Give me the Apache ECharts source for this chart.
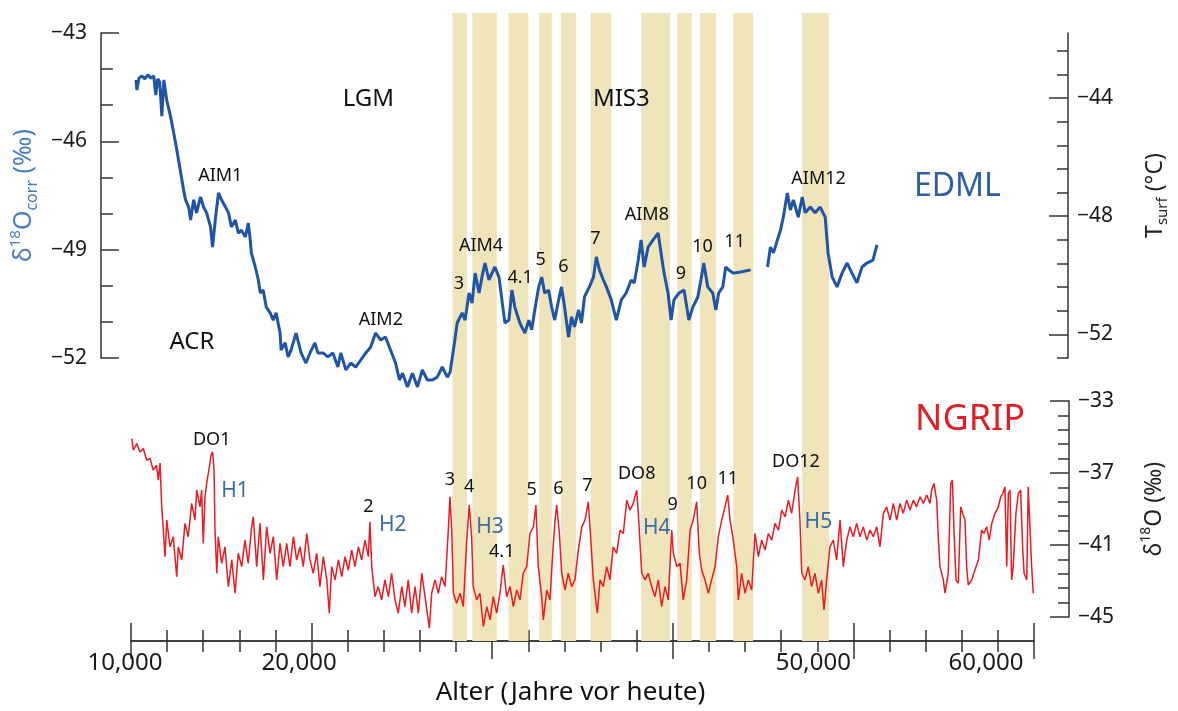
<!DOCTYPE html>
<html>
<head>
<meta charset="utf-8">
<script src="https://cdn.jsdelivr.net/npm/echarts@6/dist/echarts.min.js"></script>
<style>
  html, body { margin: 0; padding: 0; background: #fff; }
  #chart { width: 1178px; height: 711px; }
</style>
</head>
<body>
<div id="chart"></div>
<script>
// --- EDML (Antarktis), δ18O corr in ‰, Alter in Jahren vor heute ---
const edmlYears = [
  10060, 10110, 10220, 10390, 10550, 10720, 10890, 11050, 11160, 11270, 11380, 11500, 11610, 11720, 11770,
  11990, 12160, 12330, 12550, 12710, 12820, 12990, 13100, 13270, 13430, 13650, 13820, 13990, 14210, 14320,
  14490, 14650, 14820, 15040, 15210, 15370, 15590, 15760, 15930, 16150, 16310, 16420, 16480, 16700, 16870,
  16980, 17140, 17310, 17530, 17700, 17860, 18080, 18140, 18360, 18530, 18690, 18970, 19250, 19520, 19750,
  20020, 20190, 20470, 20740, 21020, 21300, 21460, 21740, 22020, 22290, 22570, 22850, 23120, 23400, 23680,
  23950, 24230, 24510, 24730, 24900, 25170, 25450, 25730, 26000, 26280, 26560, 26830, 27110, 27390, 27550,
  27770, 27940, 28220, 28380, 28600, 28770, 28940, 29160, 29320, 29490, 29710, 29880, 30040, 30270, 30430,
  30600, 30820, 30990, 31150, 31430, 31710, 31930, 32090, 32260, 32480, 32650, 32810, 33030, 33200, 33370,
  33590, 33750, 33920, 34140, 34310, 34470, 34700, 34860, 35030, 35300, 35530, 35690, 35860, 36080, 36250,
  36520, 36800, 37080, 37350, 37630, 37800, 38020, 38180, 38350, 38570, 38850, 39130, 39290, 39460, 39680,
  39850, 40010, 40290, 40570, 40840, 41060, 41340, 41510, 41670, 41890, 42170, 42340, 42500, 42730, 42890,
  43060, 43330, 43720, 44280, 45000, 45220, 45380, 45550, 45770, 45940, 46100, 46320, 46490, 46660, 46930,
  47150, 47320, 47600, 47870, 48150, 48430, 48590, 48820, 49090, 49370, 49650, 49920, 50200, 50480, 50750,
  51090, 51310
];
const edmlValues = [
  -44.30, -44.58, -44.25, -44.19, -44.27, -44.16, -44.25, -44.19, -44.72, -44.27, -44.36, -45.30, -44.30, -44.25, -44.86,
  -45.33, -45.77, -46.24, -46.88, -47.35, -47.62, -47.82, -48.18, -47.62, -47.98, -47.54, -47.82, -47.98, -48.37, -48.93,
  -48.10, -47.43, -47.62, -47.82, -47.98, -48.37, -48.18, -48.54, -48.46, -48.65, -48.26, -48.73, -49.09, -49.48, -49.84,
  -50.20, -50.12, -50.59, -50.75, -50.95, -50.75, -51.31, -51.78, -51.58, -51.97, -51.78, -51.31, -51.86, -52.14, -51.86,
  -51.58, -51.86, -51.86, -51.97, -51.86, -52.25, -51.86, -52.33, -52.14, -52.25, -52.06, -51.86, -51.70, -51.31, -51.50,
  -51.42, -51.78, -52.14, -52.61, -52.42, -52.80, -52.42, -52.80, -52.33, -52.61, -52.61, -52.53, -52.25, -52.53, -52.39,
  -51.64, -51.03, -50.75, -50.95, -50.20, -50.48, -49.65, -50.20, -49.76, -49.37, -49.84, -49.65, -49.48, -49.76, -50.39,
  -51.03, -50.95, -50.12, -50.59, -51.03, -51.31, -50.95, -51.22, -50.67, -50.03, -49.76, -50.20, -50.12, -50.59, -50.95,
  -50.39, -50.03, -50.59, -51.42, -50.86, -51.14, -50.67, -51.03, -50.31, -50.03, -49.76, -49.20, -49.56, -49.84, -50.03,
  -50.39, -50.95, -50.39, -50.20, -49.84, -49.92, -49.29, -48.73, -49.48, -48.93, -48.73, -48.54, -49.09, -49.65, -50.20,
  -50.95, -50.39, -50.20, -50.12, -50.95, -50.59, -50.31, -49.84, -49.37, -50.03, -50.20, -50.67, -50.20, -50.03, -49.48,
  -49.56, -49.65, -49.62, -49.56, null, -49.48, -48.93, -49.09, -48.73, -48.46, -48.10, -47.43, -47.90, -47.62, -48.10,
  -47.54, -47.98, -47.82, -47.98, -47.82, -48.10, -49.09, -49.76, -50.03, -49.65, -49.37, -49.65, -49.92, -49.48, -49.37,
  -49.29, -48.87
];

// --- NGRIP (Grönland), δ18O in ‰ ---
const ngripYears = [
  10040, 10130, 10320, 10500, 10680, 10870, 11050, 11230, 11420, 11510, 11610, 11700, 11790, 11880, 11980,
  12160, 12340, 12530, 12620, 12810, 12990, 13170, 13360, 13540, 13640, 13820, 13910, 14000, 14100, 14190,
  14340, 14430, 14520, 14600, 14650, 14750, 14830, 15020, 15200, 15390, 15580, 15760, 15940, 16130, 16310,
  16490, 16680, 16770, 16960, 17140, 17330, 17510, 17700, 17880, 18070, 18250, 18430, 18620, 18800, 18990,
  19170, 19360, 19540, 19730, 19910, 20090, 20280, 20460, 20650, 20840, 20980, 21110, 21300, 21480, 21670,
  21850, 22030, 22220, 22400, 22590, 22770, 22960, 23140, 23230, 23330, 23510, 23690, 23880, 24060, 24250,
  24430, 24620, 24800, 24990, 25170, 25350, 25540, 25730, 25910, 26100, 26280, 26520, 26650, 26830, 27020,
  27200, 27390, 27570, 27660, 27760, 27850, 28030, 28220, 28400, 28590, 28730, 28860, 28950, 29140, 29320,
  29510, 29700, 29880, 30060, 30250, 30430, 30610, 30800, 30990, 31170, 31360, 31540, 31720, 31910, 32090,
  32280, 32420, 32550, 32740, 32830, 33020, 33200, 33350, 33480, 33570, 33720, 33850, 34030, 34210, 34400,
  34580, 34770, 34960, 35140, 35320, 35450, 35600, 35820, 35970, 36150, 36340, 36520, 36700, 36890, 37080,
  37260, 37450, 37630, 37810, 38000, 38090, 38280, 38460, 38640, 38830, 39010, 39200, 39380, 39570, 39750,
  39940, 40030, 40220, 40400, 40580, 40770, 40960, 41130, 41320, 41470, 41600, 41780, 41970, 42150, 42340,
  42520, 42710, 42890, 43040, 43170, 43350, 43540, 43630, 43810, 44000, 44180, 44370, 44550, 44740, 44920,
  45110, 45290, 45480, 45660, 45850, 46030, 46220, 46400, 46580, 46770, 46910, 47040, 47140, 47320, 47500,
  47690, 47870, 48060, 48240, 48370, 48520, 48700, 48890, 49070, 49260, 49440, 49630, 49810, 49990, 50180,
  50360, 50550, 50740, 50920, 51100, 51290, 51470, 51660, 51840, 52030, 52210, 52400, 52580, 52760, 52950,
  53130, 53320, 53500, 53690, 53870, 54060, 54240, 54330, 54460, 54610, 54700, 54790, 54980, 55070, 55250,
  55390, 55480, 55570, 55680, 55810, 55940, 56050, 56180, 56270, 56360, 56550, 56730, 56920, 57100, 57230,
  57380, 57520, 57660, 57840, 58020, 58160, 58270, 58390, 58490, 58580, 58670, 58760, 58850, 59000, 59130,
  59260, 59370, 59450, 59600, 59680, 59780, 59870, 59960
];
const ngripValues = [
  -35.09, -35.73, -35.36, -35.83, -35.64, -36.29, -36.19, -36.84, -36.57, -37.40, -36.45, -38.88, -40.17, -41.65, -39.62,
  -41.10, -40.54, -42.76, -41.10, -41.83, -39.80, -40.54, -38.69, -39.62, -37.95, -38.88, -37.95, -40.91, -38.32, -37.58,
  -36.66, -36.01, -35.83, -36.84, -40.17, -42.57, -40.54, -42.02, -41.10, -43.31, -41.83, -43.68, -41.46, -42.20, -40.73,
  -42.02, -39.99, -39.43, -42.20, -39.80, -42.94, -39.99, -41.46, -40.54, -42.94, -40.91, -42.20, -40.91, -42.20, -40.54,
  -41.83, -41.10, -42.20, -40.36, -41.83, -42.57, -41.46, -43.31, -41.65, -42.94, -44.79, -42.20, -42.94, -41.83, -42.76,
  -41.65, -42.39, -41.28, -42.20, -41.10, -41.83, -40.73, -41.65, -39.71, -42.20, -43.87, -43.31, -44.05, -42.94, -43.87,
  -42.57, -44.05, -44.79, -43.31, -44.42, -42.94, -44.79, -43.31, -44.79, -42.57, -43.87, -45.62, -43.68, -42.94, -43.68,
  -42.76, -43.31, -40.17, -38.32, -40.17, -43.68, -44.24, -43.68, -44.42, -40.73, -38.78, -40.54, -43.31, -44.05, -43.68,
  -45.53, -44.42, -45.16, -43.87, -44.79, -43.68, -42.11, -43.87, -43.31, -44.42, -43.50, -44.05, -42.57, -42.20, -40.36,
  -39.99, -38.78, -42.20, -43.87, -45.16, -43.50, -44.05, -41.46, -39.62, -38.78, -40.36, -42.57, -43.50, -42.57, -43.31,
  -42.94, -41.28, -39.99, -39.62, -38.60, -40.54, -42.94, -44.79, -42.94, -43.31, -42.20, -42.94, -41.10, -41.46, -40.17,
  -40.36, -38.51, -39.06, -38.69, -37.95, -39.24, -42.57, -42.94, -42.57, -43.31, -43.87, -42.94, -44.42, -43.31, -44.05,
  -40.17, -41.46, -42.20, -42.02, -44.05, -42.94, -40.17, -39.62, -38.60, -41.46, -42.39, -42.94, -43.68, -42.94, -42.20,
  -40.54, -39.62, -38.88, -38.23, -39.62, -40.73, -42.20, -44.05, -42.57, -43.68, -42.94, -43.50, -40.36, -41.65, -40.73,
  -41.28, -40.36, -40.73, -39.80, -40.17, -39.06, -39.43, -38.51, -39.24, -37.95, -37.21, -39.62, -42.57, -42.94, -42.20,
  -43.31, -42.57, -43.68, -42.94, -44.61, -42.94, -41.10, -40.73, -41.83, -39.62, -42.20, -40.73, -39.99, -40.54, -39.80,
  -40.54, -39.99, -40.73, -40.17, -40.54, -39.99, -41.10, -39.24, -38.88, -39.62, -38.69, -39.62, -38.69, -39.24, -38.51,
  -39.06, -38.51, -38.88, -38.32, -38.69, -38.23, -38.69, -37.95, -37.58, -38.51, -40.54, -42.20, -42.94, -43.68, -42.57,
  -37.58, -37.40, -40.17, -42.94, -43.13, -38.88, -39.24, -39.62, -42.20, -43.22, -42.94, -42.39, -41.83, -40.17, -40.36,
  -39.99, -40.73, -39.80, -39.24, -38.88, -38.32, -38.14, -37.77, -42.20, -38.14, -37.95, -42.94, -42.20, -39.24, -38.14,
  -37.95, -41.10, -42.57, -42.94, -37.77, -37.67, -42.20, -43.68
];

// --- Warmphasen (Interstadiale), schattiert: [Beginn, Ende] ---
const bandStarts = [27800, 28900, 30900, 32600, 33800, 35450, 38250, 40250, 41500, 43350, 47150];
const bandEnds   = [28600, 30250, 32000, 33300, 34650, 36600, 39850, 41050, 42400, 44450, 48650];

// --- Beschriftungen ---
const periodNames = ['LGM', 'MIS3', 'ACR'];
const periodYears = [23000, 37080, 13170];
const periodVals  = [-44.83, -44.83, -51.57];

const aimNames = ['AIM1', 'AIM2', 'AIM4', '3', '4.1', '5', '6', '7', 'AIM8', '9', '10', '11', 'AIM12'];
const aimYears = [14750, 23690, 29270, 28030, 31450, 32590, 33850, 35640, 38500, 40400, 41600, 43390, 48060];
const aimVals  = [-46.96, -50.95, -48.89, -49.95, -49.77, -49.29, -49.47, -48.71, -48.04, -49.67, -48.93, -48.78, -47.04];

const doNames = ['DO1', '2', '3', '4', '4.1', '5', '6', '7', 'DO8', '9', '10', '11', 'DO12'];
const doYears = [14470, 23140, 27660, 28730, 30530, 32190, 33660, 35270, 38000, 39990, 41320, 43040, 46820];
const doVals  = [-35.14, -38.88, -37.40, -37.77, -41.37, -37.95, -37.86, -37.73, -37.03, -38.79, -37.58, -37.30, -36.38];

const heinrichNames = ['H1', 'H2', 'H3', 'H4', 'H5'];
const heinrichYears = [15760, 24490, 29880, 39110, 48060];
const heinrichVals  = [-38.01, -39.89, -39.99, -40.08, -39.71];

const edmlTag  = ['EDML', 55790, -47.26];
const ngripTag = ['NGRIP', 56460, -34.05];

// --- Achsen-Ticks ---
const xTickLabels = { 10000: '10,000', 20000: '20,000', 50000: '50,000', 60000: '60,000' };
const tsurfMinorTicks = [-52.8, -52, -51.2, -50.4, -49.6, -48.8, -48, -47.2, -46.4, -45.6, -44.8, -44, -43.2, -42.4];
const tsurfMajorTicks = [-52, -48, -44];

const FONT = '"Noto Sans", "DejaVu Sans", sans-serif';
const INK = '#111';
const minus = (v) => String(v).replace('-', '\u2212');
const pairs = (xs, ys) => xs.map((x, i) => [x, ys[i]]);
const notes = (names, xs, ys) => names.map((n, i) => ({ name: n, value: [xs[i], ys[i]] }));

// Beschriftungen leicht nach links versetzt wie in der Vorlage
const xLabelShift = { 10000: 12, 20000: 25, 50000: 80, 60000: 96 };
const xRich = {};
Object.keys(xLabelShift).forEach((k) => {
  xRich['s' + k] = { fontSize: 24, fontFamily: FONT, color: '#1a1a1a', padding: [0, xLabelShift[k], 0, 0] };
});

function labelSeries(data, xi, yi, size, color) {
  return {
    type: 'scatter',
    xAxisIndex: xi,
    yAxisIndex: yi,
    symbolSize: 1,
    // scatter default opacity is 0.8 and the label inherits it
    itemStyle: { color: 'rgba(0,0,0,0)', opacity: 1 },
    silent: true,
    z: 10,
    data: data,
    label: {
      show: true,
      position: 'inside',
      formatter: (p) => p.name,
      fontFamily: FONT,
      fontSize: size,
      color: color,
      textBorderWidth: 0,
    },
  };
}

const X_MIN = 10000, X_MAX = 60000;
const gridLeft = 131, gridRight = 144;
const axisLineStyle = { color: '#333', width: 1.5 };

const chart = echarts.init(document.getElementById('chart'), null, { renderer: 'canvas' });

const option = {
  backgroundColor: '#fff',
  animation: false,
  grid: [
    { left: gridLeft, right: gridRight, top: 13, bottom: 52 },
    { left: gridLeft, right: gridRight, top: 33, height: 325 },
    { left: gridLeft, right: gridRight, top: 401, height: 216 },
  ],
  xAxis: [
    {
      gridIndex: 0, type: 'value', position: 'top', min: X_MIN, max: X_MAX, interval: 10000,
      axisLine: { lineStyle: axisLineStyle },
      axisTick: { inside: true, length: 18, lineStyle: axisLineStyle },
      minorTick: { show: true, splitNumber: 5, length: 11, lineStyle: axisLineStyle },
      axisLabel: { show: false },
      splitLine: { show: false },
    },
    {
      gridIndex: 0, type: 'value', position: 'bottom', min: X_MIN, max: X_MAX, interval: 10000,
      axisLine: { lineStyle: axisLineStyle },
      axisTick: { inside: true, length: 18, lineStyle: axisLineStyle },
      minorTick: { show: true, splitNumber: 5, length: 11, lineStyle: axisLineStyle },
      axisLabel: {
        margin: 10,
        formatter: (v) => (xTickLabels[v] ? '{s' + v + '|' + xTickLabels[v] + '}' : ''),
        rich: xRich,
      },
      splitLine: { show: false },
      name: 'Alter (Jahre vor heute)',
      nameLocation: 'middle',
      nameGap: 29,
      nameTextStyle: {
        fontFamily: FONT,
        fontSize: 26,
        color: '#111',
        padding: [0, 24, 0, 0],
      },
    },
    { gridIndex: 1, type: 'value', min: X_MIN, max: X_MAX, show: false },
    { gridIndex: 2, type: 'value', min: X_MIN, max: X_MAX, show: false },
  ],
  yAxis: [
    { gridIndex: 0, type: 'value', min: 0, max: 1, show: false },
    {
      gridIndex: 1, type: 'value', position: 'left', offset: 34,
      min: -52, max: -43, interval: 3,
      axisLine: { show: true, lineStyle: axisLineStyle },
      axisTick: { show: true, inside: true, length: 18, lineStyle: axisLineStyle },
      minorTick: { show: true, splitNumber: 3, length: 12, lineStyle: axisLineStyle },
      splitLine: { show: false },
      axisLabel: { margin: 14, fontFamily: FONT, fontSize: 21, color: '#1a1a1a', formatter: minus },
      name: '{a|δ}{sup|18}{a|O}{sub|corr}{a| (‰)}',
      nameLocation: 'middle',
      nameGap: 50,
      nameTextStyle: {
        rich: {
          a: { fontFamily: FONT, fontSize: 25, color: '#4a7cc0', lineHeight: 32, verticalAlign: 'middle' },
          sup: { fontFamily: FONT, fontSize: 15, color: '#4a7cc0', verticalAlign: 'top', lineHeight: 32 },
          sub: { fontFamily: FONT, fontSize: 16, color: '#4a7cc0', verticalAlign: 'bottom', lineHeight: 28 },
        },
      },
    },
    {
      gridIndex: 1, type: 'value', position: 'right', offset: 35,
      min: -52.8, max: -41.8,
      axisLine: { show: true, lineStyle: axisLineStyle },
      axisTick: { show: true, inside: true, length: 11, lineStyle: axisLineStyle, customValues: tsurfMinorTicks },
      axisLabel: { show: false },
      splitLine: { show: false },
    },
    {
      gridIndex: 1, type: 'value', position: 'right', offset: 35,
      min: -52.8, max: -41.8,
      axisLine: { show: false },
      axisTick: { show: true, inside: true, length: 19, lineStyle: axisLineStyle, customValues: tsurfMajorTicks },
      axisLabel: {
        show: true, margin: 9, fontFamily: FONT, fontSize: 21, color: '#1a1a1a',
        customValues: tsurfMajorTicks, formatter: minus,
      },
      splitLine: { show: false },
      name: '{a|T}{sub|surf}{a| (°C)}',
      nameLocation: 'middle',
      nameGap: 72,
      nameTextStyle: {
        rich: {
          a: { fontFamily: FONT, fontSize: 23, color: '#222', lineHeight: 30, verticalAlign: 'middle' },
          sub: { fontFamily: FONT, fontSize: 15, color: '#222', verticalAlign: 'bottom', lineHeight: 26 },
        },
      },
    },
    {
      gridIndex: 2, type: 'value', position: 'right', offset: 35,
      min: -45, max: -33, interval: 4,
      axisLine: { show: true, lineStyle: axisLineStyle },
      axisTick: { show: true, inside: true, length: 19, lineStyle: axisLineStyle },
      minorTick: { show: true, splitNumber: 5, length: 11, lineStyle: axisLineStyle },
      splitLine: { show: false },
      axisLabel: { margin: 9, fontFamily: FONT, fontSize: 21, color: '#1a1a1a', formatter: minus },
      name: '{a|δ}{sup|18}{a|O (‰)}',
      nameLocation: 'middle',
      nameGap: 70,
      nameTextStyle: {
        rich: {
          a: { fontFamily: FONT, fontSize: 23, color: '#222', lineHeight: 30, verticalAlign: 'middle' },
          sup: { fontFamily: FONT, fontSize: 14, color: '#222', verticalAlign: 'top', lineHeight: 30 },
        },
      },
    },
  ],
  series: [
    {
      name: 'bands',
      type: 'line',
      xAxisIndex: 0,
      yAxisIndex: 0,
      data: [],
      silent: true,
      markArea: {
        silent: true,
        itemStyle: { color: '#f0e4bb' },
        data: bandStarts.map((s, i) => [{ xAxis: s }, { xAxis: bandEnds[i] }]),
      },
    },
    {
      name: 'EDML',
      type: 'line',
      xAxisIndex: 2,
      yAxisIndex: 1,
      data: pairs(edmlYears, edmlValues),
      showSymbol: false,
      clip: false,
      connectNulls: false,
      lineStyle: { color: '#2055a5', width: 3 },
      z: 5,
    },
    {
      name: 'NGRIP',
      type: 'line',
      xAxisIndex: 3,
      yAxisIndex: 4,
      data: pairs(ngripYears, ngripValues),
      showSymbol: false,
      clip: false,
      lineStyle: { color: '#ea1b22', width: 1.5 },
      z: 5,
    },
    labelSeries(notes(periodNames, periodYears, periodVals), 2, 1, 24, INK),
    labelSeries(notes(aimNames, aimYears, aimVals), 2, 1, 18, INK),
    labelSeries(notes(doNames, doYears, doVals), 3, 4, 18, INK),
    labelSeries(notes(heinrichNames, heinrichYears, heinrichVals), 3, 4, 21, '#3d6ca3'),
    labelSeries(notes([edmlTag[0]], [edmlTag[1]], [edmlTag[2]]), 2, 1, 32, '#2e5ea3'),
    labelSeries(notes([ngripTag[0]], [ngripTag[1]], [ngripTag[2]]), 3, 4, 36, '#e01e26'),
  ],
};

chart.setOption(option);
</script>
</body>
</html>
